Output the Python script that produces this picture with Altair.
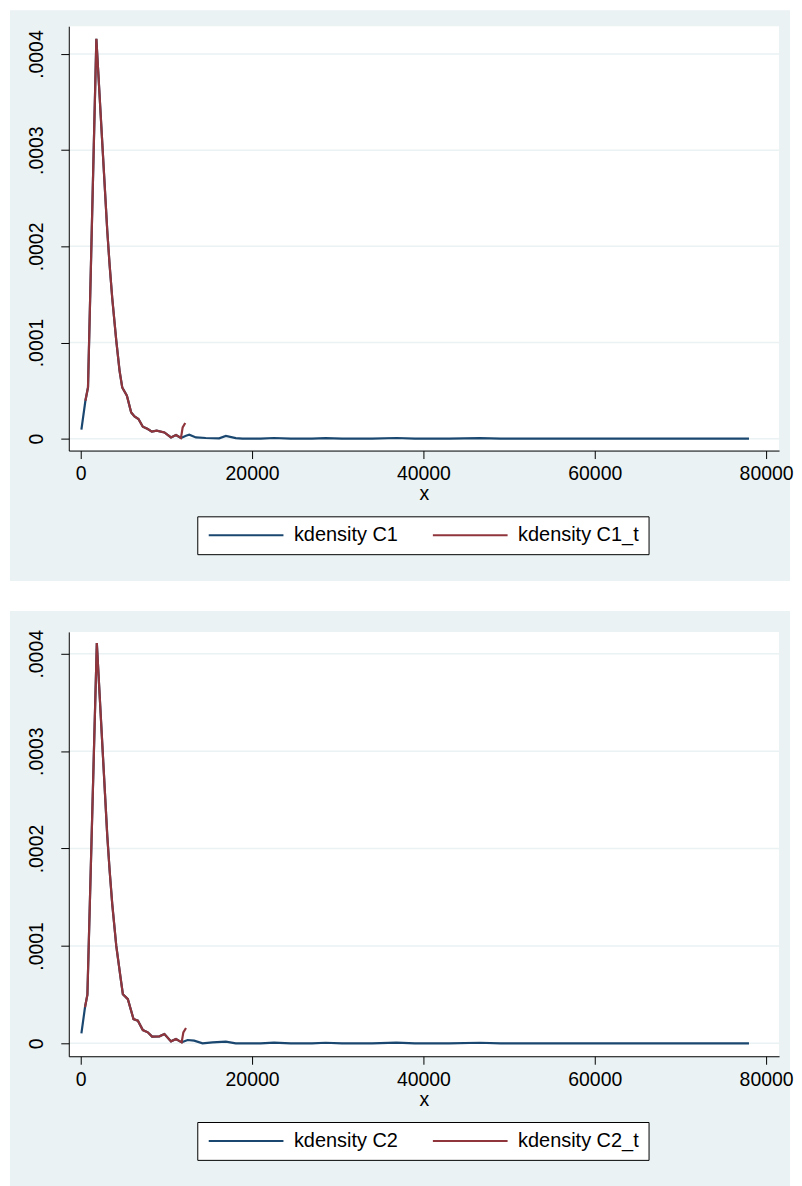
import altair as alt
import pandas as pd

# ---------------- data ----------------
c1_x = [80, 546, 850, 1826, 3100, 3370, 3680, 4150, 4535, 4845, 5390, 5890, 6280, 6740,
        7250, 7830, 8300, 8870, 9770, 10540, 11120, 11700, 12290, 12670, 13450, 14600,
        16160, 16940, 18100, 18870, 21000, 22560, 24500, 27000, 28570, 30500, 34000,
        36860, 39000, 43000, 46590, 49000, 60000, 70000, 78000]
c1_y = [0.0000093, 0.0000394, 0.0000532, 0.000416, 0.000216, 0.000181, 0.000146, 0.000102,
        0.0000705, 0.0000532, 0.0000446, 0.0000273, 0.000023, 0.0000204, 0.0000124, 0.00001,
        0.0000073, 0.0000083, 0.0000065, 0.0000013, 0.0000038, 0.0000007, 0.0000031,
        0.0000041, 0.0000013, 0.0000007, 0.0000003, 0.0000028, 0.0000005, 0.0000001, 0.0,
        0.0000007, 0.0, 0.0, 0.0000006, 0.0, 0.0, 0.0000007, 0.0, 0.0, 0.0000006, 0.0,
        0.0, 0.0, 0.0]
c1t_x = [546, 850, 1826, 3100, 3370, 3680, 4150, 4535, 4845, 5390, 5890, 6280, 6740, 7250,
         7830, 8300, 8870, 9770, 10540, 11120, 11700, 11900, 12200]
c1t_y = [0.0000394, 0.0000532, 0.000416, 0.000216, 0.000181, 0.000146, 0.000102, 0.0000705,
         0.0000532, 0.0000446, 0.0000273, 0.000023, 0.0000204, 0.0000124, 0.00001, 0.0000073,
         0.0000083, 0.0000065, 0.0000013, 0.0000038, 0.0000007, 0.0000117, 0.0000163]

c2_x = [80, 500, 780, 1880, 3100, 3370, 3680, 4150, 4650, 4920, 5500, 6160, 6670, 7250,
        7830, 8330, 9190, 9770, 10540, 11120, 11780, 12480, 13240, 14220, 15380, 16940,
        18100, 21000, 22560, 24500, 27000, 28570, 30500, 34000, 36860, 39000, 43000,
        46590, 49000, 60000, 70000, 78000]
c2_y = [0.0000102, 0.000037, 0.00005, 0.000411, 0.000213, 0.000178, 0.000143, 0.0001,
        0.0000675, 0.0000504, 0.0000453, 0.0000249, 0.0000232, 0.0000136, 0.0000113,
        0.0000069, 0.0000072, 0.0000095, 0.000002, 0.0000044, 0.000001, 0.0000034,
        0.0000027, 0.0, 0.000001, 0.0000017, 0.0, 0.0, 0.0000007, 0.0, 0.0, 0.0000006,
        0.0, 0.0, 0.0000007, 0.0, 0.0, 0.0000006, 0.0, 0.0, 0.0, 0.0]
c2t_x = [500, 780, 1880, 3100, 3370, 3680, 4150, 4650, 4920, 5500, 6160, 6670, 7250, 7830,
         8330, 9190, 9770, 10540, 11120, 11780, 11980, 12290]
c2t_y = [0.000037, 0.00005, 0.000411, 0.000213, 0.000178, 0.000143, 0.0001, 0.0000675,
         0.0000504, 0.0000453, 0.0000249, 0.0000232, 0.0000136, 0.0000113, 0.0000069,
         0.0000072, 0.0000095, 0.000002, 0.0000044, 0.000001, 0.0000113, 0.0000157]

x_ticks = [0, 20000, 40000, 60000, 80000]
y_ticks = [0, 0.0001, 0.0002, 0.0003, 0.0004]

# ---------------- style ----------------
NAVY = "#1a476f"
MAROON = "#90353b"
BG = "#eaf2f3"
FONT = "Liberation Sans"
FS = 19.5
W, H = 713, 426


def panel(xa, ya, xb, yb, name_a, name_b, ydom, bg_y, bg_y2):
    df = pd.DataFrame({
        "x": xa + xb,
        "y": ya + yb,
        "series": [name_a] * len(xa) + [name_b] * len(xb),
    })
    one = pd.DataFrame({"k": [0]})
    grid_df = pd.DataFrame({"y": y_ticks})

    xenc = alt.X("x:Q",
                 scale=alt.Scale(domain=[-1395, 81512], nice=False, zero=False),
                 axis=alt.Axis(values=x_ticks, format="d", title="x", tickSize=8,
                               labelPadding=6.5, titlePadding=1, grid=False,
                               labelFlush=False, zindex=1))
    yenc = alt.Y("y:Q",
                 scale=alt.Scale(domain=ydom, nice=False, zero=False),
                 axis=alt.Axis(values=y_ticks, title=None, tickSize=8,
                               labelExpr="datum.value == 0 ? '0' : replace(format(datum.value, '.4f'), '0.', '.')",
                               labelAngle=270, labelAlign="center",
                               labelBaseline="alphabetic", labelPadding=18,
                               grid=False, labelFlush=False, zindex=1))

    bg = alt.Chart(one).mark_rect(color=BG).encode(
        x=alt.value(-59), x2=alt.value(W + 11), y=alt.value(bg_y), y2=alt.value(bg_y2))
    plot_bg = alt.Chart(one).mark_rect(color="white").encode(
        x=alt.value(0), x2=alt.value(W), y=alt.value(0), y2=alt.value(H))
    grid = alt.Chart(grid_df).mark_rule(color=BG, strokeWidth=1.5).encode(
        x=alt.value(0), x2=alt.value(W), y=yenc)
    lines = alt.Chart(df).mark_line(strokeWidth=2.2).encode(
        x=xenc, y=yenc,
        color=alt.Color("series:N",
                        scale=alt.Scale(domain=[name_a, name_b], range=[NAVY, MAROON]),
                        legend=alt.Legend(title=None, orient="none", legendX=129, legendY=492,
                                          direction="horizontal", symbolType="M-5,0H5",
                                          symbolSize=225, symbolStrokeWidth=2,
                                          symbolOffset=30, labelOffset=38,
                                          columnPadding=30, padding=9,
                                          strokeColor="black", fillColor="white",
                                          labelFont=FONT, labelFontSize=20,
                                          labelColor="black", labelBaseline="middle")))
    return alt.layer(bg, plot_bg, grid, lines).properties(width=W, height=H)


p1 = panel(c1_x, c1_y, c1t_x, c1t_y, "kdensity C1", "kdensity C1_t",
           [-0.0000124, 0.000429], -16, H + 131)
p2 = panel(c2_x, c2_y, c2t_x, c2t_y, "kdensity C2", "kdensity C2_t",
           [-0.0000133, 0.0004225], -21, H + 135)

chart = alt.vconcat(p1, p2, spacing=182, bounds="flush").resolve_scale(
    x="independent", y="independent", color="independent"
).properties(
    padding={"left": 2, "top": 0, "right": 0, "bottom": 0}
).configure(
    background="white"
).configure_view(
    strokeWidth=0
).configure_axis(
    labelFont=FONT, labelFontSize=FS, labelColor="black",
    titleFont=FONT, titleFontSize=FS, titleFontWeight="normal", titleColor="black",
    domainColor="black", tickColor="black", domainWidth=1, tickWidth=1
)

chart.save("out.html", embed_options={"renderer": "svg", "actions": False})
